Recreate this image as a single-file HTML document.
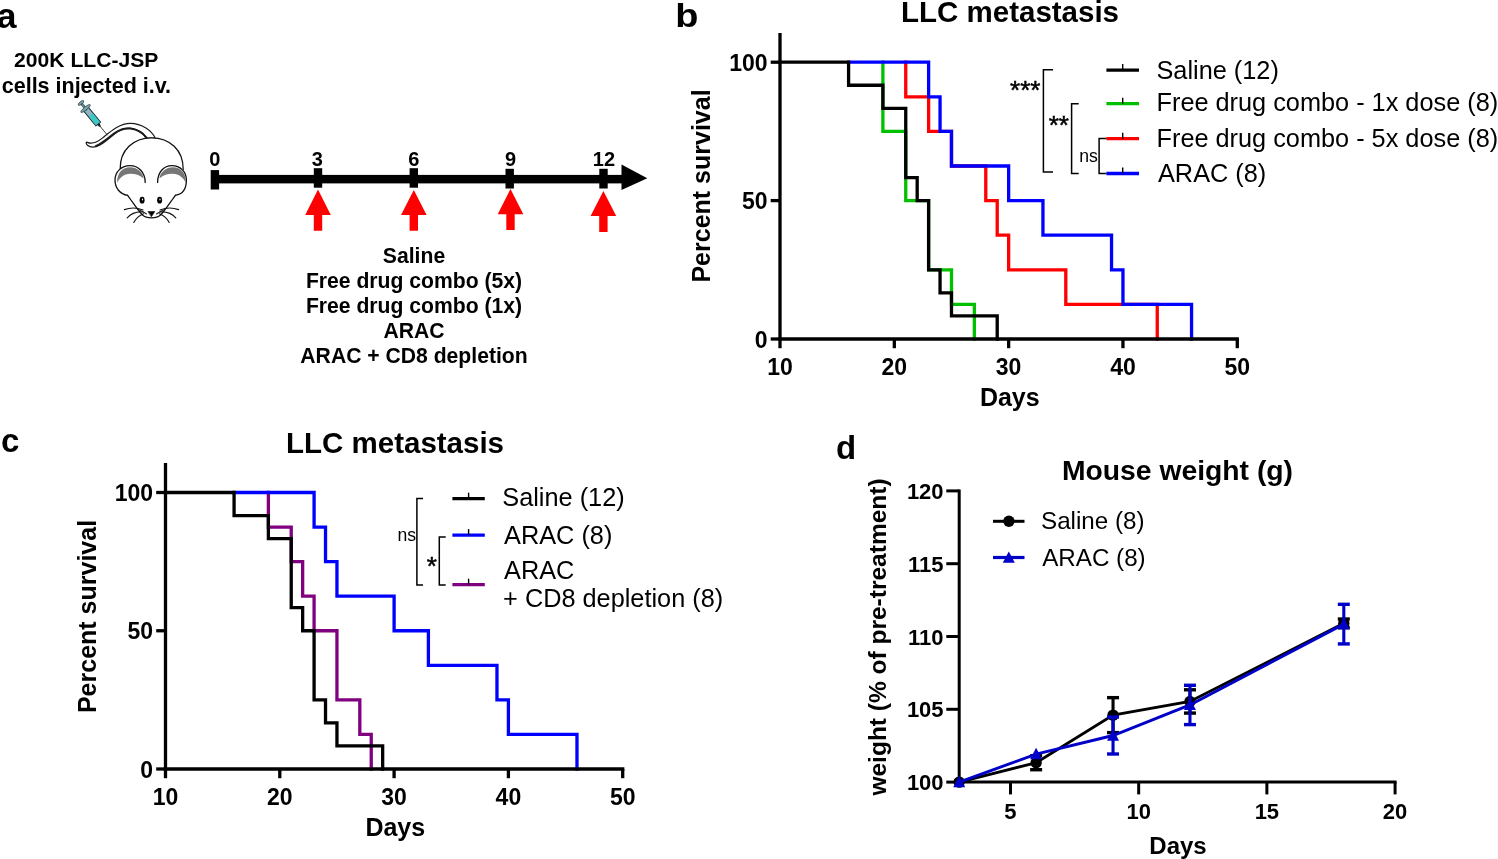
<!DOCTYPE html>
<html><head><meta charset="utf-8"><style>
html,body{margin:0;padding:0;background:#fff;}
body{width:1498px;height:859px;overflow:hidden;}
svg{display:block;font-family:"Liberation Sans",sans-serif;will-change:transform;}
</style></head><body>
<svg width="1498" height="859" viewBox="0 0 1498 859">
<rect width="1498" height="859" fill="#fff"/>
<text x="-3.30" y="27.70" font-size="35.5" font-weight="bold" text-anchor="start" fill="#000" >a</text>
<text x="86.20" y="67.00" font-size="21.1" font-weight="bold" text-anchor="middle" fill="#000" >200K LLC-JSP</text>
<text x="86.40" y="92.50" font-size="21.5" font-weight="bold" text-anchor="middle" fill="#000" >cells injected i.v.</text>
<rect x="213" y="174.9" width="412" height="8.5" fill="#000"/>
<path d="M621.5,164.4 L647.3,178.2 L621.5,190 Z" fill="#000"/>
<rect x="210.7" y="170.1" width="8.4" height="19.4" fill="#000"/>
<rect x="313.8" y="168.2" width="8.4" height="19.5" fill="#000"/>
<rect x="409.6" y="168.2" width="8.4" height="19.5" fill="#000"/>
<rect x="505.5" y="168.8" width="8.4" height="19.7" fill="#000"/>
<rect x="599.3" y="168.8" width="8.4" height="19.7" fill="#000"/>
<text x="214.80" y="166.00" font-size="20" font-weight="bold" text-anchor="middle" fill="#000" >0</text>
<text x="317.20" y="166.00" font-size="20" font-weight="bold" text-anchor="middle" fill="#000" >3</text>
<text x="413.80" y="166.00" font-size="20" font-weight="bold" text-anchor="middle" fill="#000" >6</text>
<text x="510.50" y="166.00" font-size="20" font-weight="bold" text-anchor="middle" fill="#000" >9</text>
<text x="603.90" y="166.00" font-size="20" font-weight="bold" text-anchor="middle" fill="#000" >12</text>
<path d="M318.0,189.6 L330.8,214.9 L322.2,214.9 L322.2,230.8 L313.8,230.8 L313.8,214.9 L305.2,214.9 Z" fill="#ff0000"/>
<path d="M413.8,190 L426.6,214.9 L418.0,214.9 L418.0,230.8 L409.6,230.8 L409.6,214.9 L401.0,214.9 Z" fill="#ff0000"/>
<path d="M510.5,188.9 L523.3,214.2 L514.7,214.2 L514.7,230 L506.3,230 L506.3,214.2 L497.7,214.2 Z" fill="#ff0000"/>
<path d="M603.4,191 L616.2,216.1 L607.6,216.1 L607.6,232.1 L599.2,232.1 L599.2,216.1 L590.6,216.1 Z" fill="#ff0000"/>
<text x="414.00" y="263.30" font-size="21.15" font-weight="bold" text-anchor="middle" fill="#000" >Saline</text>
<text x="414.00" y="288.33" font-size="21.15" font-weight="bold" text-anchor="middle" fill="#000" >Free drug combo (5x)</text>
<text x="414.00" y="313.36" font-size="21.15" font-weight="bold" text-anchor="middle" fill="#000" >Free drug combo (1x)</text>
<text x="414.00" y="338.39" font-size="21.15" font-weight="bold" text-anchor="middle" fill="#000" >ARAC</text>
<text x="414.00" y="363.42" font-size="21.15" font-weight="bold" text-anchor="middle" fill="#000" >ARAC + CD8 depletion</text>
<g id="mouse" stroke-linecap="round" stroke-linejoin="round">
<!-- tail -->
<path d="M155.3,138.2 C152,131 142,123.2 130.2,123.3 C119,123.4 110,132 102,138.4 C97,142.3 92,144.5 87.4,142.4 C85.6,141.6 85.8,143.6 87.5,145.2 C90,147.4 95,147.6 100,145 C106,141.8 112,135.5 118,131.3 C124,127.4 131,127.2 138,130.5 C142,132.5 145,135.5 146.6,138.2 Z" fill="#fff" stroke="#1a1a1a" stroke-width="1.2"/>
<path d="M146.4,137.6 C143,133 137,129.6 130.6,128.6 C124,127.8 119,130 114,133.6 C108,138 102,143.4 96,146" fill="none" stroke="#1a1a1a" stroke-width="2.0"/>
<!-- body dome -->
<path d="M120.2,169 C119.8,150 133.5,137.8 151.5,137.8 C169.5,137.8 183.4,150 183.2,169.5" fill="#fff" stroke="#111" stroke-width="1.3"/>
<!-- head fill region -->
<path d="M120.2,169 L183.2,169.5 L175.4,195.4 C172,201 165,212 160,215.5 C156,218.6 147,218.6 143,215.5 C138,212 131,201 127.6,195.4 Z" fill="#fff" stroke="none"/>
<!-- left ear -->
<path d="M127.6,195.3 C120,194.2 115,188 115,180 C115,171.5 121.8,165.6 130,165.6 C138.5,165.6 145.2,172.5 145.2,182.4" fill="#fff" stroke="#111" stroke-width="1.3"/>
<path d="M117.2,182.8 C116.6,173 122.8,167.3 130,167.3 C137.2,167.3 142.8,172.2 143.6,178.6 C139.5,174.6 135,173.6 130,173.7 C124,174 119.6,177.4 117.2,182.8 Z" fill="#777" stroke="none"/>
<!-- right ear -->
<path d="M175.4,195.3 C183,194.2 186.4,188 186.4,180 C186.4,171.5 180,165.6 172,165.6 C163.5,165.6 157.6,172.5 157.6,182.4" fill="#fff" stroke="#111" stroke-width="1.3"/>
<path d="M185.8,182.8 C186.4,173 180.2,167.3 173,167.3 C165.8,167.3 160.2,172.2 159.4,178.6 C163.5,174.6 168,173.6 173,173.7 C179,174 183.4,177.4 185.8,182.8 Z" fill="#777" stroke="none"/>
<!-- face outline -->
<path d="M127.6,195.3 C132,201 138,211 142.5,215 C146.5,218.8 156.5,218.8 160.5,215 C165,211 171,201 175.4,195.3" fill="none" stroke="#111" stroke-width="1.3"/>
<!-- eyes -->
<ellipse cx="142.1" cy="200.2" rx="2.5" ry="3.4" fill="#000"/>
<ellipse cx="159.6" cy="200.2" rx="2.5" ry="3.4" fill="#000"/>
<ellipse cx="142.5" cy="199.4" rx="0.6" ry="1.0" fill="#fff"/>
<ellipse cx="160.0" cy="199.4" rx="0.6" ry="1.0" fill="#fff"/>
<!-- nose -->
<path d="M148.2,211.6 L154.8,211.6 L151.5,216.6 Z" fill="#000" stroke="#000" stroke-width="0.6"/>
<!-- muzzle marks -->
<path d="M138,209.5 C141,210.5 144,212 146.5,214" fill="none" stroke="#222" stroke-width="1.1"/>
<path d="M165,209.5 C162,210.5 159,212 156.5,214" fill="none" stroke="#222" stroke-width="1.1"/>
<!-- whiskers -->
<g fill="none" stroke="#111" stroke-width="1.15">
<path d="M143,210 C137,207.5 130,207.5 124.4,209.6"/>
<path d="M143,212 C136,211.5 131,213.5 127.2,217.9"/>
<path d="M143.5,213.8 C139,215.5 136,218.5 133.8,222.5"/>
<path d="M160,210 C166,207.5 173,207.5 178.6,209.6"/>
<path d="M160,212 C167,211.5 172,213.5 175.8,217.9"/>
<path d="M159.5,213.8 C164,215.5 167,218.5 169.2,222.5"/>
</g>
<!-- syringe -->
<g transform="translate(80.6,102.5) rotate(50.6)">
<line x1="0" y1="0" x2="42" y2="0" stroke="#222" stroke-width="0.8"/>
<rect x="8" y="-3" width="19.8" height="6" fill="#8fb5c0" stroke="#1d2b33" stroke-width="1"/>
<rect x="16" y="-2.5" width="11.3" height="5" fill="#3cc9c3"/>
<rect x="0.5" y="-1.1" width="7.5" height="2.2" fill="#5f8a96" stroke="#2a3d44" stroke-width="0.6"/>
<ellipse cx="0.6" cy="0" rx="1.4" ry="3.4" fill="#7aa3ae" stroke="#2a3d44" stroke-width="0.7"/>
<ellipse cx="7.8" cy="0" rx="1.6" ry="6" fill="#7aa3ae" stroke="#2a3d44" stroke-width="0.7"/>
<path d="M27.5,-1.6 L31,-0.8 L31,0.8 L27.5,1.6 Z" fill="#1d2a33"/>
</g>
</g>

<text transform="translate(675.3,27) scale(1.15,1)" x="0" y="0" font-size="33" font-weight="bold">b</text>
<text x="1010.00" y="22.10" font-size="29.5" font-weight="bold" text-anchor="middle" fill="#000" >LLC metastasis</text>
<path d="M882.89,62.20 H882.89 V131.40 H905.75 V200.60 H928.62 V269.80 H951.48 V304.40 H974.34 V339.00" fill="none" stroke="#00c000" stroke-width="3.3" stroke-linejoin="miter" stroke-linecap="square"/>
<path d="M905.75,62.20 H905.75 V96.80 H928.62 V131.40 H951.48 V166.00 H985.78 V200.60 H997.21 V235.20 H1008.64 V269.80 H1065.80 V304.40 H1157.26 V339.00" fill="none" stroke="#ff0000" stroke-width="3.3" stroke-linejoin="miter" stroke-linecap="square"/>
<path d="M848.59,62.20 H928.62 V96.80 H940.05 V131.40 H951.48 V166.00 H1008.64 V200.60 H1042.94 V235.20 H1111.53 V269.80 H1122.96 V304.40 H1191.55 V339.00" fill="none" stroke="#0000ff" stroke-width="3.3" stroke-linejoin="miter" stroke-linecap="square"/>
<path d="M780.00,62.20 H848.59 V85.27 H882.89 V108.33 H905.75 V177.53 H917.18 V200.60 H928.62 V269.80 H940.05 V292.87 H951.48 V315.93 H997.21 V339.00" fill="none" stroke="#000" stroke-width="3.3" stroke-linejoin="miter" stroke-linecap="square"/>
<line x1="780.00" y1="32.90" x2="780.00" y2="340.65" stroke="#000" stroke-width="3.3"/>
<line x1="778.35" y1="339.00" x2="1238.93" y2="339.00" stroke="#000" stroke-width="3.3"/>
<line x1="770.70" y1="339.00" x2="780.00" y2="339.00" stroke="#000" stroke-width="3.3"/>
<line x1="770.70" y1="200.60" x2="780.00" y2="200.60" stroke="#000" stroke-width="3.3"/>
<line x1="770.70" y1="62.20" x2="780.00" y2="62.20" stroke="#000" stroke-width="3.3"/>
<line x1="780.00" y1="339.00" x2="780.00" y2="348.20" stroke="#000" stroke-width="3.3"/>
<line x1="894.32" y1="339.00" x2="894.32" y2="348.20" stroke="#000" stroke-width="3.3"/>
<line x1="1008.64" y1="339.00" x2="1008.64" y2="348.20" stroke="#000" stroke-width="3.3"/>
<line x1="1122.96" y1="339.00" x2="1122.96" y2="348.20" stroke="#000" stroke-width="3.3"/>
<line x1="1237.28" y1="339.00" x2="1237.28" y2="348.20" stroke="#000" stroke-width="3.3"/>
<text x="767.50" y="347.70" font-size="23" font-weight="bold" text-anchor="end" fill="#000" >0</text>
<text x="767.50" y="209.30" font-size="23" font-weight="bold" text-anchor="end" fill="#000" >50</text>
<text x="767.50" y="70.90" font-size="23" font-weight="bold" text-anchor="end" fill="#000" >100</text>
<text x="780.00" y="374.60" font-size="23" font-weight="bold" text-anchor="middle" fill="#000" >10</text>
<text x="894.32" y="374.60" font-size="23" font-weight="bold" text-anchor="middle" fill="#000" >20</text>
<text x="1008.64" y="374.60" font-size="23" font-weight="bold" text-anchor="middle" fill="#000" >30</text>
<text x="1122.96" y="374.60" font-size="23" font-weight="bold" text-anchor="middle" fill="#000" >40</text>
<text x="1237.28" y="374.60" font-size="23" font-weight="bold" text-anchor="middle" fill="#000" >50</text>
<text x="1009.80" y="405.90" font-size="25" font-weight="bold" text-anchor="middle" fill="#000" >Days</text>
<text transform="translate(709.5,186) rotate(-90)" x="0" y="0" font-size="25" font-weight="bold" text-anchor="middle">Percent survival</text>
<line x1="1106.4" y1="70.1" x2="1139" y2="70.1" stroke="#000" stroke-width="3.3"/><line x1="1122.7" y1="64.1" x2="1122.7" y2="70.1" stroke="#000" stroke-width="1.4"/>
<text x="1156.50" y="78.80" font-size="25.3" text-anchor="start" fill="#000" >Saline (12)</text>
<line x1="1106.4" y1="103.7" x2="1139" y2="103.7" stroke="#00c000" stroke-width="3.3"/><line x1="1122.7" y1="97.7" x2="1122.7" y2="103.7" stroke="#000" stroke-width="1.4"/>
<text x="1156.50" y="111.30" font-size="25.3" text-anchor="start" fill="#000" >Free drug combo - 1x dose (8)</text>
<line x1="1106.4" y1="138.7" x2="1139" y2="138.7" stroke="#ff0000" stroke-width="3.3"/><line x1="1122.7" y1="132.7" x2="1122.7" y2="138.7" stroke="#000" stroke-width="1.4"/>
<text x="1156.50" y="146.70" font-size="25.3" text-anchor="start" fill="#000" >Free drug combo - 5x dose (8)</text>
<line x1="1106.4" y1="173.5" x2="1139" y2="173.5" stroke="#0000ff" stroke-width="3.3"/><line x1="1122.7" y1="167.5" x2="1122.7" y2="173.5" stroke="#000" stroke-width="1.4"/>
<text x="1158.00" y="181.80" font-size="25.3" text-anchor="start" fill="#000" >ARAC (8)</text>
<path d="M1053,69.7 H1043.4 V172 H1053" fill="none" stroke="#000" stroke-width="1.5"/>
<path d="M1078.7,103.7 H1071.6 V173.5 H1078.7" fill="none" stroke="#000" stroke-width="1.5"/>
<path d="M1106.4,138.4 H1099.1 V173.5 H1106.4" fill="none" stroke="#000" stroke-width="1.5"/>
<text x="1025.30" y="99.00" font-size="26" text-anchor="middle" fill="#000" stroke="#000" stroke-width="0.5">***</text>
<text x="1058.80" y="133.60" font-size="26" text-anchor="middle" fill="#000" stroke="#000" stroke-width="0.5">**</text>
<text x="1088.50" y="161.50" font-size="17.6" text-anchor="middle" fill="#000" >ns</text>
<text x="1.00" y="451.90" font-size="33" font-weight="bold" text-anchor="start" fill="#000" >c</text>
<text x="395.00" y="453.00" font-size="29.5" font-weight="bold" text-anchor="middle" fill="#000" >LLC metastasis</text>
<path d="M268.37,492.50 H268.37 V527.06 H291.23 V561.62 H302.66 V596.19 H314.09 V630.75 H336.95 V699.88 H359.81 V734.44 H371.24 V769.00" fill="none" stroke="#800080" stroke-width="3.3" stroke-linejoin="miter" stroke-linecap="square"/>
<path d="M234.08,492.50 H314.09 V527.06 H325.52 V561.62 H336.95 V596.19 H394.10 V630.75 H428.39 V665.31 H496.97 V699.88 H508.40 V734.44 H576.98 V769.00" fill="none" stroke="#0000ff" stroke-width="3.3" stroke-linejoin="miter" stroke-linecap="square"/>
<path d="M165.50,492.50 H234.08 V515.54 H268.37 V538.58 H291.23 V607.71 H302.66 V630.75 H314.09 V699.88 H325.52 V722.92 H336.95 V745.96 H382.67 V769.00" fill="none" stroke="#000" stroke-width="3.3" stroke-linejoin="miter" stroke-linecap="square"/>
<line x1="165.50" y1="463.00" x2="165.50" y2="770.65" stroke="#000" stroke-width="3.3"/>
<line x1="163.85" y1="769.00" x2="624.35" y2="769.00" stroke="#000" stroke-width="3.3"/>
<line x1="156.20" y1="769.00" x2="165.50" y2="769.00" stroke="#000" stroke-width="3.3"/>
<line x1="156.20" y1="630.75" x2="165.50" y2="630.75" stroke="#000" stroke-width="3.3"/>
<line x1="156.20" y1="492.50" x2="165.50" y2="492.50" stroke="#000" stroke-width="3.3"/>
<line x1="165.50" y1="769.00" x2="165.50" y2="778.20" stroke="#000" stroke-width="3.3"/>
<line x1="279.80" y1="769.00" x2="279.80" y2="778.20" stroke="#000" stroke-width="3.3"/>
<line x1="394.10" y1="769.00" x2="394.10" y2="778.20" stroke="#000" stroke-width="3.3"/>
<line x1="508.40" y1="769.00" x2="508.40" y2="778.20" stroke="#000" stroke-width="3.3"/>
<line x1="622.70" y1="769.00" x2="622.70" y2="778.20" stroke="#000" stroke-width="3.3"/>
<text x="153.00" y="777.70" font-size="23" font-weight="bold" text-anchor="end" fill="#000" >0</text>
<text x="153.00" y="639.45" font-size="23" font-weight="bold" text-anchor="end" fill="#000" >50</text>
<text x="153.00" y="501.20" font-size="23" font-weight="bold" text-anchor="end" fill="#000" >100</text>
<text x="165.50" y="804.60" font-size="23" font-weight="bold" text-anchor="middle" fill="#000" >10</text>
<text x="279.80" y="804.60" font-size="23" font-weight="bold" text-anchor="middle" fill="#000" >20</text>
<text x="394.10" y="804.60" font-size="23" font-weight="bold" text-anchor="middle" fill="#000" >30</text>
<text x="508.40" y="804.60" font-size="23" font-weight="bold" text-anchor="middle" fill="#000" >40</text>
<text x="622.70" y="804.60" font-size="23" font-weight="bold" text-anchor="middle" fill="#000" >50</text>
<text x="395.30" y="836.10" font-size="25" font-weight="bold" text-anchor="middle" fill="#000" >Days</text>
<text transform="translate(95.5,616.5) rotate(-90)" x="0" y="0" font-size="25" font-weight="bold" text-anchor="middle">Percent survival</text>
<line x1="452.4" y1="498.7" x2="484.8" y2="498.7" stroke="#000" stroke-width="3.3"/><line x1="468.6" y1="492.7" x2="468.6" y2="498.7" stroke="#000" stroke-width="1.4"/>
<text x="502.30" y="506.40" font-size="25.3" text-anchor="start" fill="#000" >Saline (12)</text>
<line x1="452.4" y1="535.1" x2="484.8" y2="535.1" stroke="#0000ff" stroke-width="3.3"/><line x1="468.6" y1="529.1" x2="468.6" y2="535.1" stroke="#000" stroke-width="1.4"/>
<text x="504.10" y="543.70" font-size="25.3" text-anchor="start" fill="#000" >ARAC (8)</text>
<line x1="452.4" y1="584.7" x2="484.8" y2="584.7" stroke="#800080" stroke-width="3.3"/><line x1="468.6" y1="578.7" x2="468.6" y2="584.7" stroke="#000" stroke-width="1.4"/>
<text x="504.10" y="578.50" font-size="25.3" text-anchor="start" fill="#000" >ARAC</text>
<text x="503.10" y="607.40" font-size="25.3" text-anchor="start" fill="#000" >+ CD8 depletion (8)</text>
<path d="M423.0,498.4 H416.9 V584.9 H423.0" fill="none" stroke="#000" stroke-width="1.5"/>
<path d="M445.7,536.9 H439.3 V584.9 H445.7" fill="none" stroke="#000" stroke-width="1.5"/>
<text x="406.80" y="541.20" font-size="17.6" text-anchor="middle" fill="#000" >ns</text>
<text x="431.90" y="575.00" font-size="26" text-anchor="middle" fill="#000" stroke="#000" stroke-width="0.5">*</text>
<text x="836.00" y="458.90" font-size="33" font-weight="bold" text-anchor="start" fill="#000" >d</text>
<text x="1177.50" y="479.60" font-size="28.3" font-weight="bold" text-anchor="middle" fill="#000" >Mouse weight (g)</text>
<line x1="959.20" y1="489.40" x2="959.20" y2="783.60" stroke="#000" stroke-width="3.0"/>
<line x1="957.70" y1="782.10" x2="1396.58" y2="782.10" stroke="#000" stroke-width="3.0"/>
<line x1="946.3" y1="782.10" x2="959.20" y2="782.10" stroke="#000" stroke-width="3.0"/>
<text x="943.60" y="790.10" font-size="22" font-weight="bold" text-anchor="end" fill="#000" >100</text>
<line x1="946.3" y1="709.30" x2="959.20" y2="709.30" stroke="#000" stroke-width="3.0"/>
<text x="943.60" y="717.30" font-size="22" font-weight="bold" text-anchor="end" fill="#000" >105</text>
<line x1="946.3" y1="636.50" x2="959.20" y2="636.50" stroke="#000" stroke-width="3.0"/>
<text x="943.60" y="644.50" font-size="22" font-weight="bold" text-anchor="end" fill="#000" >110</text>
<line x1="946.3" y1="563.70" x2="959.20" y2="563.70" stroke="#000" stroke-width="3.0"/>
<text x="943.60" y="571.70" font-size="22" font-weight="bold" text-anchor="end" fill="#000" >115</text>
<line x1="946.3" y1="490.90" x2="959.20" y2="490.90" stroke="#000" stroke-width="3.0"/>
<text x="943.60" y="498.90" font-size="22" font-weight="bold" text-anchor="end" fill="#000" >120</text>
<line x1="1010.48" y1="782.10" x2="1010.48" y2="794.4" stroke="#000" stroke-width="3.0"/>
<text x="1010.48" y="818.60" font-size="22" font-weight="bold" text-anchor="middle" fill="#000" >5</text>
<line x1="1138.68" y1="782.10" x2="1138.68" y2="794.4" stroke="#000" stroke-width="3.0"/>
<text x="1138.68" y="818.60" font-size="22" font-weight="bold" text-anchor="middle" fill="#000" >10</text>
<line x1="1266.88" y1="782.10" x2="1266.88" y2="794.4" stroke="#000" stroke-width="3.0"/>
<text x="1266.88" y="818.60" font-size="22" font-weight="bold" text-anchor="middle" fill="#000" >15</text>
<line x1="1395.08" y1="782.10" x2="1395.08" y2="794.4" stroke="#000" stroke-width="3.0"/>
<text x="1395.08" y="818.60" font-size="22" font-weight="bold" text-anchor="middle" fill="#000" >20</text>
<text x="1178.00" y="853.50" font-size="24" font-weight="bold" text-anchor="middle" fill="#000" >Days</text>
<text transform="translate(886,637) rotate(-90)" x="0" y="0" font-size="24.5" font-weight="bold" text-anchor="middle">weight (% of pre-treatment)</text>

<line x1="1036.12" y1="755.75" x2="1036.12" y2="769.72" stroke="#000" stroke-width="3.1"/><line x1="1030.12" y1="755.75" x2="1042.12" y2="755.75" stroke="#000" stroke-width="3.4"/><line x1="1030.12" y1="769.72" x2="1042.12" y2="769.72" stroke="#000" stroke-width="3.4"/>
<line x1="1113.04" y1="697.65" x2="1113.04" y2="732.60" stroke="#000" stroke-width="3.1"/><line x1="1107.04" y1="697.65" x2="1119.04" y2="697.65" stroke="#000" stroke-width="3.4"/><line x1="1107.04" y1="732.60" x2="1119.04" y2="732.60" stroke="#000" stroke-width="3.4"/>
<line x1="1189.96" y1="689.79" x2="1189.96" y2="713.09" stroke="#000" stroke-width="3.1"/><line x1="1183.96" y1="689.79" x2="1195.96" y2="689.79" stroke="#000" stroke-width="3.4"/><line x1="1183.96" y1="713.09" x2="1195.96" y2="713.09" stroke="#000" stroke-width="3.4"/>
<line x1="1343.80" y1="619.03" x2="1343.80" y2="627.76" stroke="#000" stroke-width="3.1"/><line x1="1337.80" y1="619.03" x2="1349.80" y2="619.03" stroke="#000" stroke-width="3.4"/><line x1="1337.80" y1="627.76" x2="1349.80" y2="627.76" stroke="#000" stroke-width="3.4"/>
<polyline points="959.20,782.10 1036.12,762.74 1113.04,715.12 1189.96,701.44 1343.80,623.40" fill="none" stroke="#000" stroke-width="2.9"/>
<circle cx="959.20" cy="782.10" r="5.7" fill="#000"/>
<circle cx="1036.12" cy="762.74" r="5.7" fill="#000"/>
<circle cx="1113.04" cy="715.12" r="5.7" fill="#000"/>
<circle cx="1189.96" cy="701.44" r="5.7" fill="#000"/>
<circle cx="1343.80" cy="623.40" r="5.7" fill="#000"/>


<line x1="1113.04" y1="717.02" x2="1113.04" y2="754.00" stroke="#0000c8" stroke-width="3.1"/><line x1="1107.04" y1="717.02" x2="1119.04" y2="717.02" stroke="#0000c8" stroke-width="3.4"/><line x1="1107.04" y1="754.00" x2="1119.04" y2="754.00" stroke="#0000c8" stroke-width="3.4"/>
<line x1="1189.96" y1="685.28" x2="1189.96" y2="724.59" stroke="#0000c8" stroke-width="3.1"/><line x1="1183.96" y1="685.28" x2="1195.96" y2="685.28" stroke="#0000c8" stroke-width="3.4"/><line x1="1183.96" y1="724.59" x2="1195.96" y2="724.59" stroke="#0000c8" stroke-width="3.4"/>
<line x1="1343.80" y1="604.32" x2="1343.80" y2="643.93" stroke="#0000c8" stroke-width="3.1"/><line x1="1337.80" y1="604.32" x2="1349.80" y2="604.32" stroke="#0000c8" stroke-width="3.4"/><line x1="1337.80" y1="643.93" x2="1349.80" y2="643.93" stroke="#0000c8" stroke-width="3.4"/>
<polyline points="959.20,782.10 1036.12,754.14 1113.04,735.51 1189.96,704.93 1343.80,624.12" fill="none" stroke="#0000c8" stroke-width="2.9"/>
<path d="M959.20,775.83 L965.20,787.23 L953.20,787.23 Z" fill="#0000c8"/>
<path d="M1036.12,747.87 L1042.12,759.27 L1030.12,759.27 Z" fill="#0000c8"/>
<path d="M1113.04,729.24 L1119.04,740.64 L1107.04,740.64 Z" fill="#0000c8"/>
<path d="M1189.96,698.66 L1195.96,710.06 L1183.96,710.06 Z" fill="#0000c8"/>
<path d="M1343.80,617.85 L1349.80,629.25 L1337.80,629.25 Z" fill="#0000c8"/>
<line x1="993" y1="521.3" x2="1024.5" y2="521.3" stroke="#000" stroke-width="3"/>
<circle cx="1008.9" cy="521.2" r="5.7" fill="#000"/>
<line x1="993" y1="557.5" x2="1024.5" y2="557.5" stroke="#0000c8" stroke-width="3.2"/>
<path d="M1008.80,551.43 L1014.80,562.83 L1002.80,562.83 Z" fill="#0000c8"/>
<text x="1041.00" y="528.80" font-size="24.2" text-anchor="start" fill="#000" >Saline (8)</text>
<text x="1042.20" y="565.50" font-size="24.2" text-anchor="start" fill="#000" >ARAC (8)</text>
</svg>
</body></html>
